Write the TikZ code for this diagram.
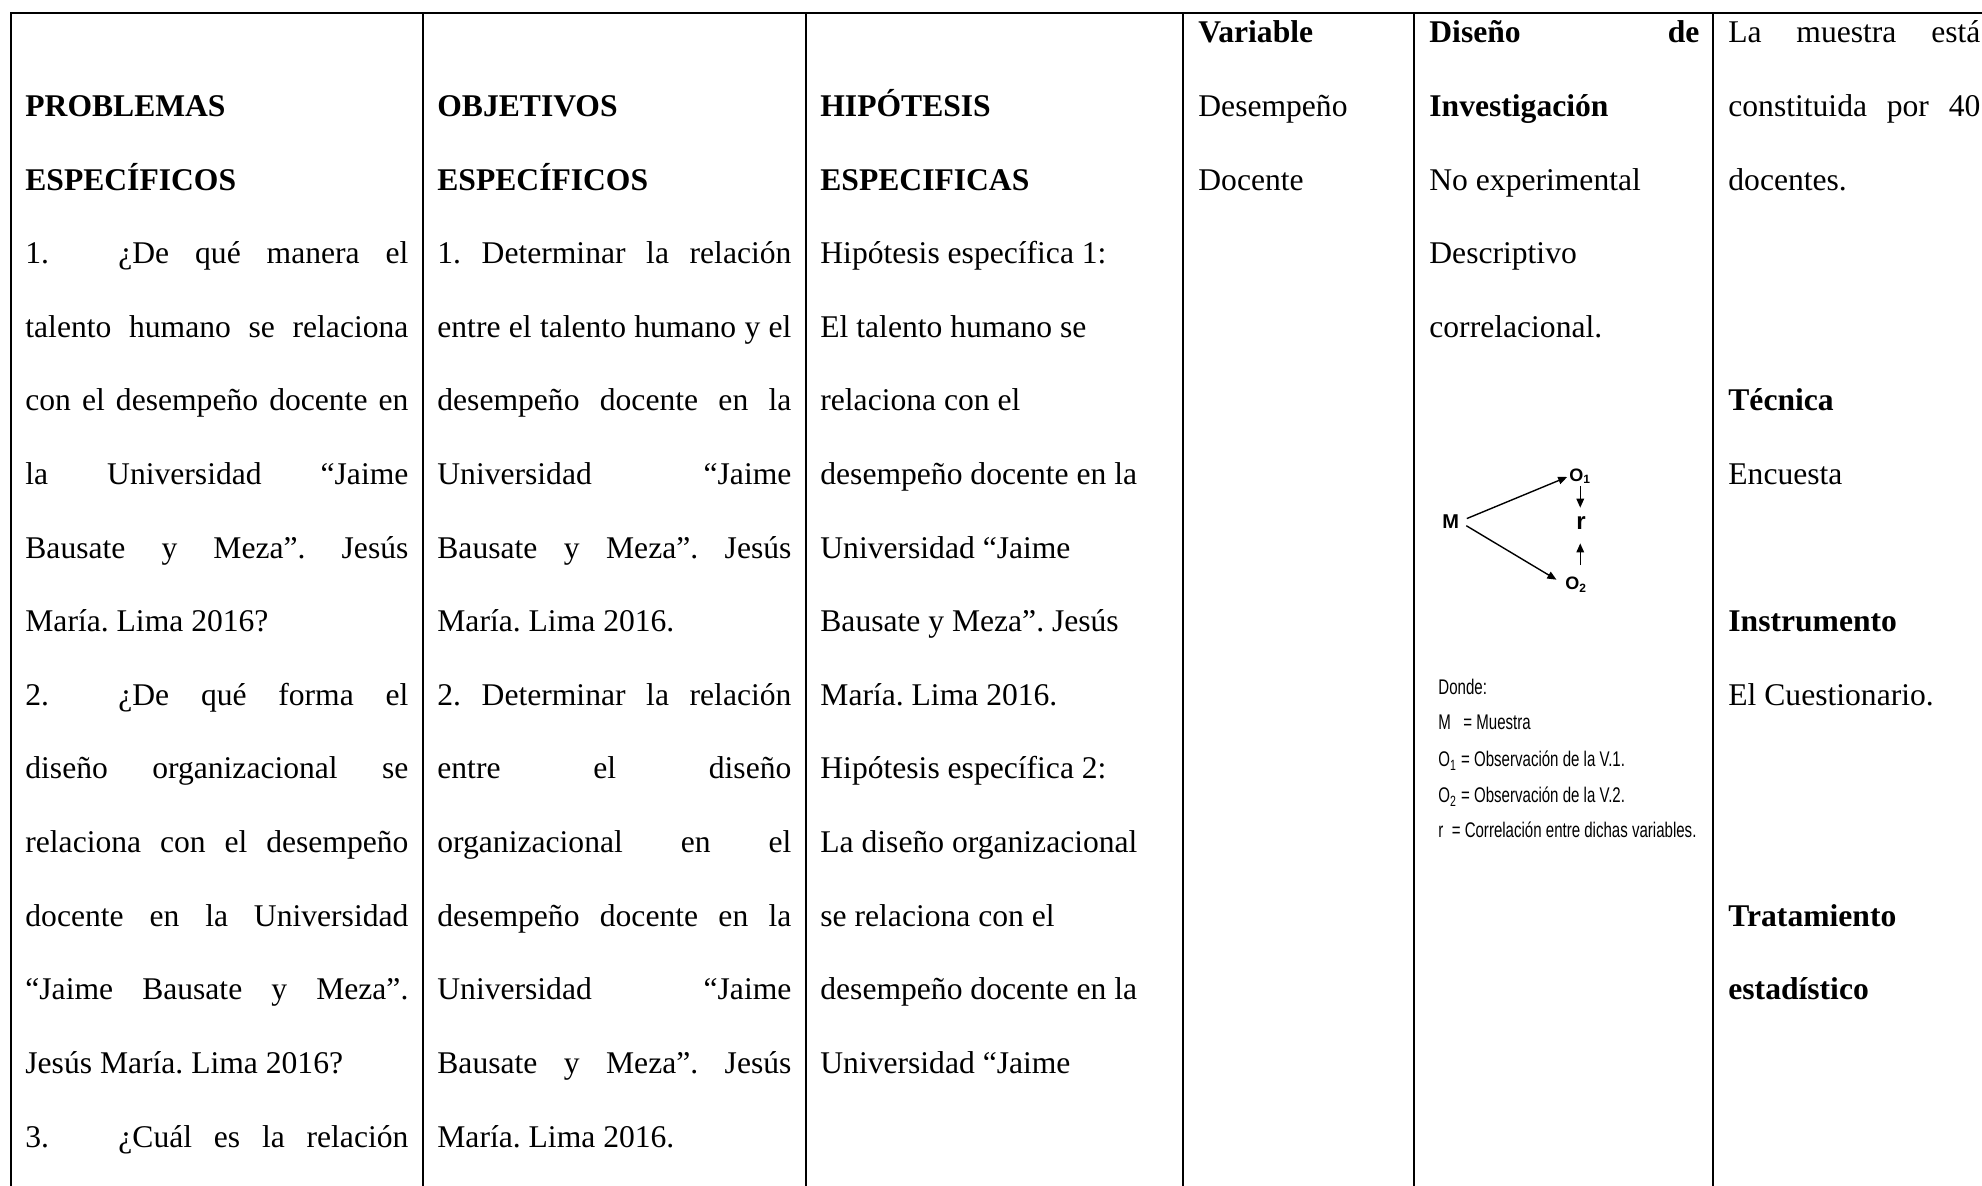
\documentclass[tikz,border=0pt]{standalone}
\usepackage{fontspec}
\setmainfont{Liberation Serif}
\newfontfamily\sansb{Liberation Sans}
\newfontfamily\narrowf[FakeStretch=0.71]{Liberation Sans}
\usetikzlibrary{arrows.meta}
\newdimen\pxu \pxu=0.5pt
\newcommand\jl[2]{\makebox[#1\pxu][s]{#2}}
\begin{document}
\frenchspacing
\begin{tikzpicture}[x=0.5pt,y=-0.5pt,
  txt/.style={anchor=base west, inner sep=0pt, font=\frenchspacing\fontsize{15.8pt}{19pt}\selectfont},
  hd/.style={anchor=base west, inner sep=0pt, font=\frenchspacing\fontsize{15.8pt}{19pt}\selectfont\bfseries},
  rule/.style={line width=1.3pt, black},
  lg/.style={anchor=base west, inner sep=0pt, font=\frenchspacing\narrowf\fontsize{10.6pt}{12pt}\selectfont},
  dg/.style={anchor=base west, inner sep=0pt, font=\sansb\bfseries\fontsize{10pt}{12pt}\selectfont},
  arr/.style={line width=0.7pt, -{Triangle[length=4.5pt,width=3.8pt]}}
]
\useasboundingbox (0,0) rectangle (1982,1186);
% table rules
\draw[rule] (11,1186) -- (11,13) -- (1982,13);
\foreach \x in {423,806,1183,1414,1713} \draw[rule] (\x,13) -- (\x,1186);

% column 1
\node[hd] (p1) at (25,116.6) {PROBLEMAS};
\node[hd] (p2) at (25,190.2) {ESPECÍFICOS};
\node[txt] (p3n) at (25,263.8) {1.};
\node[txt] (p3) at (118,263.8) {\jl{290}{¿De qué manera el}};
\node[txt] (p4) at (25,337.4) {\jl{383}{talento humano se relaciona}};
\node[txt] (p5) at (25,411) {\jl{383}{con el desempeño docente en}};
\node[txt] (p6) at (25,484.6) {\jl{383}{la Universidad “Jaime}};
\node[txt] (p7) at (25,558.2) {\jl{383}{Bausate y Meza”. Jesús}};
\node[txt] (p8) at (25,631.8) {María. Lima 2016?};
\node[txt] (p9n) at (25,705.4) {2.};
\node[txt] (p9) at (118,705.4) {\jl{290}{¿De qué forma el}};
\node[txt] (p10) at (25,779) {\jl{383}{diseño organizacional se}};
\node[txt] (p11) at (25,852.6) {\jl{383}{relaciona con el desempeño}};
\node[txt] (p12) at (25,926.2) {\jl{383}{docente en la Universidad}};
\node[txt] (p13) at (25,999.8) {\jl{383}{“Jaime Bausate y Meza”.}};
\node[txt] (p14) at (25,1073.4) {Jesús María. Lima 2016?};
\node[txt] (p15n) at (25,1147) {3.};
\node[txt] (p15) at (118,1147) {\jl{290}{¿Cuál es la relación}};

% column 2
\node[hd] (o1) at (437,116.6) {OBJETIVOS};
\node[hd] (o2) at (437,190.2) {ESPECÍFICOS};
\node[txt] (o3) at (437,263.8) {\jl{354}{1. Determinar la relación}};
\node[txt] (o4) at (437,337.4) {\jl{354}{entre el talento humano y el}};
\node[txt] (o5) at (437,411) {\jl{354}{desempeño docente en la}};
\node[txt] (o6) at (437,484.6) {\jl{354}{Universidad “Jaime}};
\node[txt] (o7) at (437,558.2) {\jl{354}{Bausate y Meza”. Jesús}};
\node[txt] (o8) at (437,631.8) {María. Lima 2016.};
\node[txt] (o9) at (437,705.4) {\jl{354}{2. Determinar la relación}};
\node[txt] (o10) at (437,779) {\jl{354}{entre el diseño}};
\node[txt] (o11) at (437,852.6) {\jl{354}{organizacional en el}};
\node[txt] (o12) at (437,926.2) {\jl{354}{desempeño docente en la}};
\node[txt] (o13) at (437,999.8) {\jl{354}{Universidad “Jaime}};
\node[txt] (o14) at (437,1073.4) {\jl{354}{Bausate y Meza”. Jesús}};
\node[txt] (o15) at (437,1147) {María. Lima 2016.};

% column 3
\node[hd] (h1) at (820,116.6) {HIPÓTESIS};
\node[hd] (h2) at (820,190.2) {ESPECIFICAS};
\node[txt] (h3) at (820,263.8) {Hipótesis específica 1:};
\node[txt] (h4) at (820,337.4) {El talento humano se};
\node[txt] (h5) at (820,411) {relaciona con el};
\node[txt] (h6) at (820,484.6) {desempeño docente en la};
\node[txt] (h7) at (820,558.2) {Universidad “Jaime};
\node[txt] (h8) at (820,631.8) {Bausate y Meza”. Jesús};
\node[txt] (h9) at (820,705.4) {María. Lima 2016.};
\node[txt] (h10) at (820,779) {Hipótesis específica 2:};
\node[txt] (h11) at (820,852.6) {La diseño organizacional};
\node[txt] (h12) at (820,926.2) {se relaciona con el};
\node[txt] (h13) at (820,999.8) {desempeño docente en la};
\node[txt] (h14) at (820,1073.4) {Universidad “Jaime};

% column 4
\node[hd] (v0) at (1198,43) {Variable};
\node[txt] (v1) at (1198,116.6) {Desempeño};
\node[txt] (v2) at (1198,190.2) {Docente};

% column 5
\node[hd] (d0) at (1429,43) {\jl{270}{Diseño de}};
\node[hd] (d1) at (1429,116.6) {Investigación};
\node[txt] (d2) at (1429,190.2) {No experimental};
\node[txt] (d3) at (1429,263.8) {Descriptivo};
\node[txt] (d4) at (1429,337.4) {correlacional.};

% design diagram
\node[dg] (M) at (1442,528.5) {M};
\node[dg, font=\sansb\bfseries\fontsize{9pt}{10pt}\selectfont] (O1) at (1569,481.5) {O\textsubscript{1}};
\node[dg, font=\sansb\bfseries\fontsize{12pt}{13pt}\selectfont] (r) at (1576,530) {r};
\node[dg, font=\sansb\bfseries\fontsize{9pt}{10pt}\selectfont] (O2) at (1565,590) {O\textsubscript{2}};
\draw[arr, shorten <=4pt, shorten >=1pt] (M.east) -- (O1.west);
\draw[arr, shorten <=4pt, shorten >=5pt] (M.east) -- (O2.west);
\draw[arr, shorten <=1pt, shorten >=4.5pt] (O1.south) -- (O1.south |- r.north);
\draw[arr, shorten <=6pt, shorten >=6.5pt] (O2.north -| O1.south) -- (O1.south |- r.south);

% legend
\node[lg] (l0) at (1438,695) {Donde:};
\node[lg] (l1) at (1438,730) {\makebox[12.5pt][l]{M}= Muestra};
\node[lg] (l2) at (1438,767) {O\textsubscript{1} = Observación de la V.1.};
\node[lg] (l3) at (1438,803) {O\textsubscript{2} = Observación de la V.2.};
\node[lg] (l4) at (1438,838) {r \ = Correlación entre dichas variables.};

% column 6
\node[txt] (m0) at (1728,43) {\jl{252}{La muestra está}};
\node[txt] (m1) at (1728,116.6) {\jl{252}{constituida por 40}};
\node[txt] (m2) at (1728,190.2) {docentes.};
\node[hd] (m5) at (1728,411) {Técnica};
\node[txt] (m6) at (1728,484.6) {Encuesta};
\node[hd] (m8) at (1728,631.8) {Instrumento};
\node[txt] (m9) at (1728,705.4) {El Cuestionario.};
\node[hd] (m12) at (1728,926.2) {Tratamiento};
\node[hd] (m13) at (1728,999.8) {estadístico};
\end{tikzpicture}
\end{document}
